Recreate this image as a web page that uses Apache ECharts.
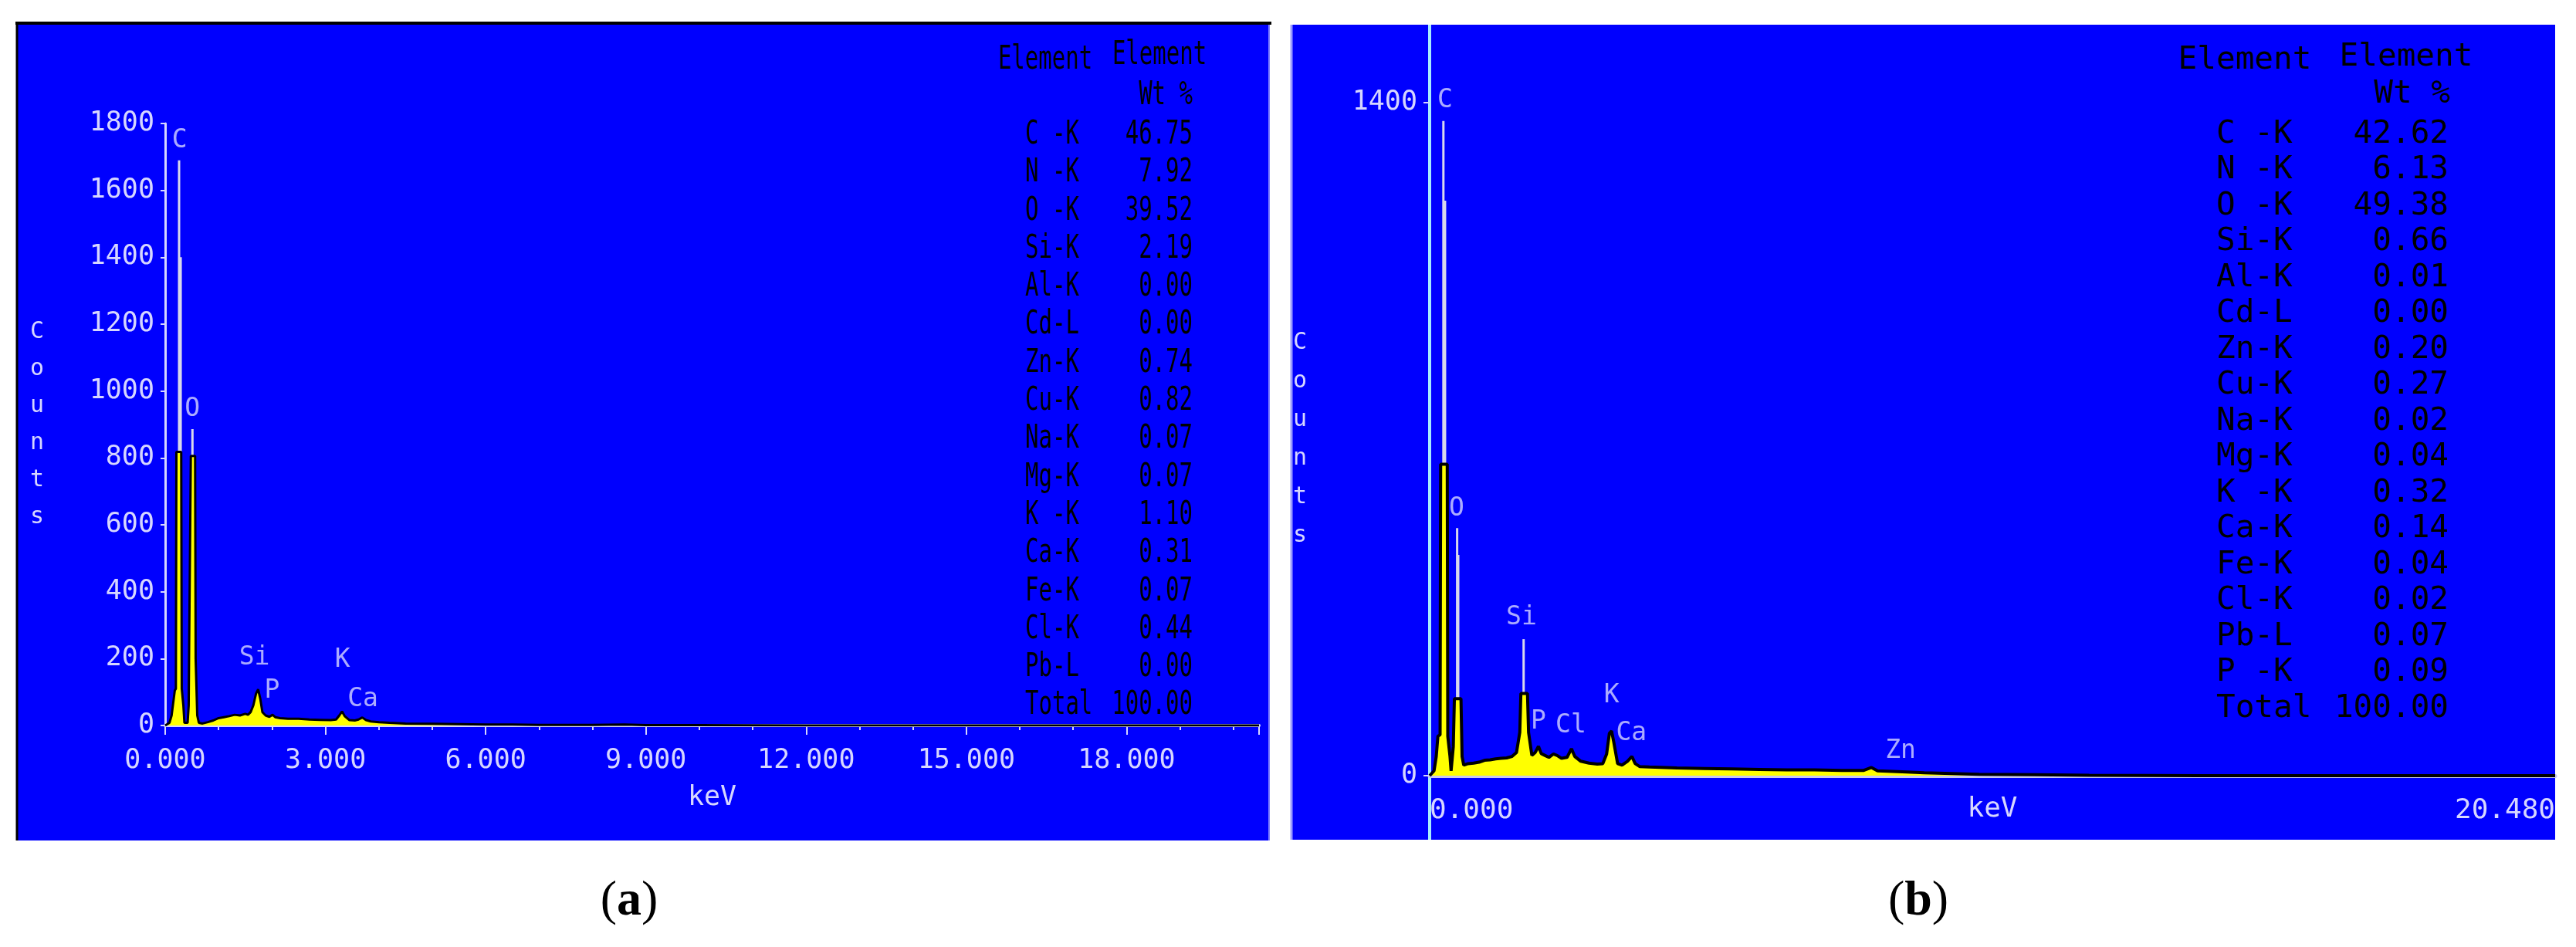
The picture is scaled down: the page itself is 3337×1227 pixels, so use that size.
<!DOCTYPE html>
<html>
<head>
<meta charset="utf-8">
<script src="https://cdn.jsdelivr.net/npm/echarts@6/dist/echarts.min.js"></script>
<style>
html,body{margin:0;padding:0;background:#fff;}
#c{width:3337px;height:1227px;}
</style>
</head>
<body>
<div id="c"></div>
<script>
// ---------- Panel (a) data ----------
const specA_keV = [0,0.08,0.12,0.16,0.18,0.20,0.21,0.30,0.31,0.34,0.36,0.38,0.42,0.44,0.45,0.47,0.48,0.56,0.57,0.60,0.63,0.70,0.80,0.90,1.00,1.10,1.20,1.30,1.40,1.50,1.55,1.60,1.65,1.70,1.74,1.78,1.82,1.88,1.95,2.01,2.06,2.15,2.30,2.50,2.70,2.90,3.10,3.20,3.26,3.31,3.36,3.45,3.55,3.62,3.69,3.76,3.85,4.00,4.20,4.50,5.00,5.50,6.00,6.50,7.00,7.50,8.00,8.60,9.00,10.0,12.0,15.0,20.48];
const specA_counts = [0,8,30,80,105,110,818,818,110,60,8,5,8,60,260,260,806,806,200,30,8,6,10,15,22,25,28,32,30,35,32,40,60,95,108,80,40,30,26,32,25,22,20,20,18,17,16,18,30,42,28,16,15,18,24,16,12,10,8,6,5,4,3,3,2,2,2,3,1,1,0,0,0];
const needleA_keV = [0.26,0.29,0.51];
const needleA_counts = [1690,1400,886];
const peakA_names = ['C','O','Si','P','K','Ca'];
const peakA_keV = [0.27,0.51,1.67,2.00,3.32,3.70];
const peakA_counts = [1749,946,203,104,196,78];
const tableA_elements = ['C -K','N -K','O -K','Si-K','Al-K','Cd-L','Zn-K','Cu-K','Na-K','Mg-K','K -K','Ca-K','Fe-K','Cl-K','Pb-L','Total'];
const tableA_wt = ['46.75','7.92','39.52','2.19','0.00','0.00','0.74','0.82','0.07','0.07','1.10','0.31','0.07','0.44','0.00','100.00'];

// ---------- Panel (b) data ----------
const specB_keV = [0,0.08,0.12,0.15,0.19,0.20,0.32,0.33,0.37,0.39,0.41,0.43,0.45,0.57,0.59,0.62,0.70,0.80,0.90,1.00,1.10,1.20,1.30,1.40,1.50,1.58,1.64,1.66,1.78,1.80,1.86,1.92,1.98,2.03,2.10,2.17,2.25,2.32,2.40,2.50,2.58,2.64,2.75,2.90,3.05,3.15,3.22,3.27,3.31,3.35,3.42,3.50,3.60,3.68,3.74,3.82,4.00,4.50,5.00,5.50,6.00,6.50,7.00,7.50,7.90,8.04,8.15,8.60,9.00,10.0,11.0,12.0,14.0,20.48];
const specB_counts = [0,10,40,82,85,648,648,82,40,10,12,60,160,160,40,22,25,26,28,32,33,35,36,37,40,48,90,171,171,90,42,48,61,46,42,38,45,42,36,38,56,40,30,26,24,25,45,88,93,70,25,22,30,40,25,19,18,16,15,14,13,12,12,11,11,17,10,8,6,3,2,1,0,0];
const needleB_keV = [0.25,0.28,0.50,0.52,1.71];
const needleB_counts = [1362,1196,515,459,284];
const peakB_names = ['C','O','Si','P','Cl','K','Ca','Zn'];
const peakB_keV = [0.28,0.49,1.67,1.98,2.57,3.31,3.67,8.57];
const peakB_counts = [1404,555,329,111,104,167,88,50];
const tableB_elements = ['C -K','N -K','O -K','Si-K','Al-K','Cd-L','Zn-K','Cu-K','Na-K','Mg-K','K -K','Ca-K','Fe-K','Cl-K','Pb-L','P -K','Total'];
const tableB_wt = ['42.62','6.13','49.38','0.66','0.01','0.00','0.20','0.27','0.02','0.04','0.32','0.14','0.04','0.02','0.07','0.09','100.00'];

const xMax = 20.48;
const panelLabels = ['a','b'];

// ---------- helpers ----------
const zip = (a, b) => a.map((v, i) => [v, b[i]]);
const MONO = '"DejaVu Sans Mono","Liberation Mono",monospace';
const BLUE = '#0000fe';
const LAV = '#d6d6ff';

const chart = echarts.init(document.getElementById('c'), null, {renderer: 'canvas', width: 3337, height: 1227});

const graphics = [];
graphics.push({type:'rect', z:-100, silent:true, shape:{x:22,y:30,width:1623,height:1059}, style:{fill:BLUE}});
graphics.push({type:'rect', z:-100, silent:true, shape:{x:1672,y:32,width:1638,height:1056}, style:{fill:BLUE}});
graphics.push({type:'line', z:-90, silent:true, shape:{x1:20,y1:30,x2:1647,y2:30}, style:{stroke:'#000',lineWidth:4}});
graphics.push({type:'line', z:-90, silent:true, shape:{x1:22,y1:30,x2:22,y2:1089}, style:{stroke:'#000',lineWidth:3}});
graphics.push({type:'line', z:-90, silent:true, shape:{x1:1644,y1:32,x2:1644,y2:1089}, style:{stroke:'#8080ff',lineWidth:2}});
graphics.push({type:'line', z:-90, silent:true, shape:{x1:1673,y1:32,x2:1673,y2:1088}, style:{stroke:'#9a9aff',lineWidth:3}});
graphics.push({type:'line', z:-80, silent:true, shape:{x1:1852,y1:32,x2:1852,y2:1088}, style:{stroke:'#a8ecff',lineWidth:4}});

const tA = {font: '29px ' + MONO};
graphics.push({type:'text', x:1354, y:78, scaleY:1.45, style:{text:'Element', ...tA, fill:'#000', align:'center', verticalAlign:'middle'}});
graphics.push({type:'text', x:1502, y:72, scaleY:1.45, style:{text:'Element', ...tA, fill:'#000', align:'center', verticalAlign:'middle'}});
graphics.push({type:'text', x:1545, y:124, scaleY:1.45, style:{text:'Wt %', ...tA, fill:'#000', align:'right', verticalAlign:'middle'}});
tableA_elements.forEach((el, i) => {
  const y = 175 + i * 49.3;
  graphics.push({type:'text', x:1328, y:y, scaleY:1.45, style:{text:el, ...tA, fill:'#000', align:'left', verticalAlign:'middle'}});
  graphics.push({type:'text', x:1545, y:y, scaleY:1.45, style:{text:tableA_wt[i], ...tA, fill:'#000', align:'right', verticalAlign:'middle'}});
});
const tB = {font: '41px ' + MONO};
graphics.push({type:'text', x:2908, y:78, style:{text:'Element', ...tB, fill:'#000', align:'center', verticalAlign:'middle'}});
graphics.push({type:'text', x:3117, y:74, style:{text:'Element', ...tB, fill:'#000', align:'center', verticalAlign:'middle'}});
graphics.push({type:'text', x:3174, y:122, style:{text:'Wt %', ...tB, fill:'#000', align:'right', verticalAlign:'middle'}});
tableB_elements.forEach((el, i) => {
  const y = 174 + i * 46.5;
  graphics.push({type:'text', x:2871, y:y, style:{text:el, ...tB, fill:'#000', align:'left', verticalAlign:'middle'}});
  graphics.push({type:'text', x:3172, y:y, style:{text:tableB_wt[i], ...tB, fill:'#000', align:'right', verticalAlign:'middle'}});
});
[[815, panelLabels[0]], [2485, panelLabels[1]]].forEach(([x, t]) => {
  graphics.push({type:'text', x:x, y:1168, style:{
    text:'{p|(}{l|' + t + '}{p|)}', align:'center', verticalAlign:'middle',
    rich:{p:{font:'64px "Liberation Serif","DejaVu Serif",serif', fill:'#000'},
          l:{font:'bold 64px "Liberation Serif","DejaVu Serif",serif', fill:'#000'}}
  }});
});

const axisLabelStyle = {color: LAV, fontFamily: MONO, fontSize: 35};
const countsName = 'C\no\nu\nn\nt\ns';
const plain = v => String(v);

const option = {
  animation: false,
  backgroundColor: '#ffffff',
  graphic: graphics,
  grid: [
    {left: 214, top: 160, width: 1417, height: 780, show: false},
    {left: 1852, top: 133, width: 1458, height: 872, show: false}
  ],
  xAxis: [
    {type:'value', gridIndex:0, min:0, max:xMax, interval:3,
     name:'keV', nameLocation:'middle', nameGap:76, nameMoveOverlap:false,
     nameTextStyle:{color:LAV, fontFamily:MONO, fontSize:35},
     axisLine:{show:true, onZero:false, lineStyle:{color:LAV, width:4}},
     axisTick:{show:true, length:12, lineStyle:{color:LAV, width:2}},
     minorTick:{show:true, splitNumber:3, length:6, lineStyle:{color:LAV, width:2}},
     splitLine:{show:false}, minorSplitLine:{show:false},
     axisLabel:{...axisLabelStyle, margin:28, showMaxLabel:false, formatter:v => v.toFixed(3)}},
    {type:'value', gridIndex:1, min:0, max:xMax, interval:xMax,
     name:'keV', nameLocation:'middle', nameGap:26, nameMoveOverlap:false,
     nameTextStyle:{color:LAV, fontFamily:MONO, fontSize:36},
     axisLine:{show:true, onZero:false, lineStyle:{color:'#c8c8f0', width:5}},
     axisTick:{show:false},
     splitLine:{show:false},
     axisLabel:{...axisLabelStyle, fontSize:36, margin:28, alignMinLabel:'left', alignMaxLabel:'right', formatter:v => v.toFixed(3)}}
  ],
  yAxis: [
    {type:'value', gridIndex:0, min:0, max:1800, interval:200,
     name:countsName, nameLocation:'middle', nameRotate:0, nameGap:157, nameMoveOverlap:false,
     nameTextStyle:{color:LAV, fontFamily:MONO, fontSize:30, lineHeight:48, align:'right'},
     axisLine:{show:true, lineStyle:{color:LAV, width:3}},
     axisTick:{show:true, length:6, lineStyle:{color:LAV, width:2}},
     splitLine:{show:false},
     axisLabel:{...axisLabelStyle, margin:14, formatter:plain}},
    {type:'value', gridIndex:1, min:0, max:1400, interval:1400,
     name:countsName, nameLocation:'middle', nameRotate:0, nameGap:159, nameMoveOverlap:false,
     nameTextStyle:{color:LAV, fontFamily:MONO, fontSize:30, lineHeight:50, align:'right'},
     axisLine:{show:false},
     axisTick:{show:true, length:8, lineStyle:{color:LAV, width:2}},
     splitLine:{show:false},
     axisLabel:{...axisLabelStyle, margin:16, formatter:plain}}
  ],
  series: [
    {type:'bar', xAxisIndex:0, yAxisIndex:0, data:zip(needleA_keV, needleA_counts), barWidth:3,
     itemStyle:{color:'#d8d8ec'}, z:2, silent:true},
    {type:'line', xAxisIndex:0, yAxisIndex:0, data:zip(specA_keV, specA_counts), symbol:'none',
     lineStyle:{color:'#000', width:3}, areaStyle:{color:'#ffff00', opacity:1}, z:3, silent:true},
    {type:'scatter', xAxisIndex:0, yAxisIndex:0, symbolSize:2, itemStyle:{color:'rgba(0,0,0,0)'}, z:4, silent:true, clip:false,
     data:peakA_names.map((n, i) => ({name:n, value:[peakA_keV[i], peakA_counts[i]]})),
     label:{show:true, position:'inside', formatter:'{b}', color:LAV, fontFamily:MONO, fontSize:33}},
    {type:'bar', xAxisIndex:1, yAxisIndex:1, data:zip(needleB_keV, needleB_counts), barWidth:3,
     itemStyle:{color:'#d8d8ec'}, z:2, silent:true},
    {type:'line', xAxisIndex:1, yAxisIndex:1, data:zip(specB_keV, specB_counts), symbol:'none',
     lineStyle:{color:'#000', width:4}, areaStyle:{color:'#ffff00', opacity:1}, z:3, silent:true},
    {type:'scatter', xAxisIndex:1, yAxisIndex:1, symbolSize:2, itemStyle:{color:'rgba(0,0,0,0)'}, z:4, silent:true, clip:false,
     data:peakB_names.map((n, i) => ({name:n, value:[peakB_keV[i], peakB_counts[i]]})),
     label:{show:true, position:'inside', formatter:'{b}', color:LAV, fontFamily:MONO, fontSize:33}}
  ]
};
chart.setOption(option);
</script>
</body>
</html>
